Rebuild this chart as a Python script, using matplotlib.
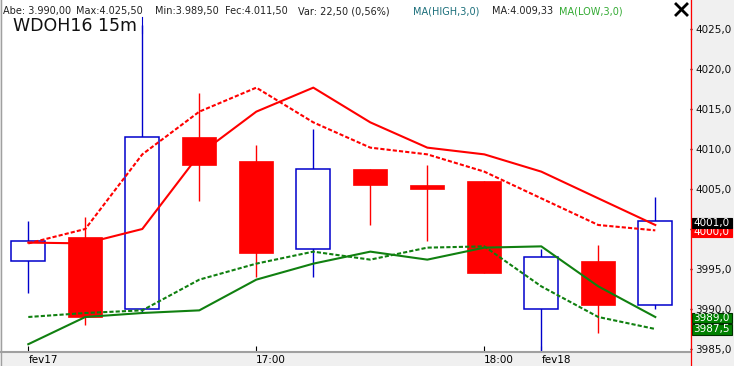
import matplotlib
matplotlib.use("Agg")
import matplotlib.pyplot as plt
from matplotlib.patches import Rectangle
from matplotlib.lines import Line2D
import matplotlib.transforms as mtransforms

W, H = 734, 366

# ---- data ----
opens  = [3996.0, 3999.0, 3990.0, 4011.5, 4008.5, 3997.5, 4007.5, 4005.5, 4006.0, 3990.0, 3996.0, 3990.5]
highs  = [4001.0, 4001.5, 4025.5, 4017.0, 4010.5, 4012.5, 4007.5, 4008.0, 4006.0, 3997.5, 3998.0, 4004.0]
lows   = [3992.0, 3988.0, 3989.5, 4003.5, 3994.0, 3994.0, 4000.5, 3998.5, 3994.5, 3984.0, 3987.0, 3990.0]
closes = [3998.5, 3989.0, 4011.5, 4008.0, 3997.0, 4007.5, 4005.5, 4005.0, 3994.5, 3996.5, 3990.5, 4001.0]

ma_high_dotted = [3998.20, 4000.00, 4009.33, 4014.67, 4017.67, 4013.33, 4010.17, 4009.33, 4007.17, 4003.83, 4000.50, 3999.83]
ma_high_solid  = [3998.30, 3998.20, 4000.00, 4009.33, 4014.67, 4017.67, 4013.33, 4010.17, 4009.33, 4007.17, 4003.83, 4000.50]
ma_low_dotted  = [3989.00, 3989.50, 3989.83, 3993.67, 3995.67, 3997.17, 3996.17, 3997.67, 3997.83, 3992.83, 3989.00, 3987.50]
ma_low_solid   = [3985.60, 3989.00, 3989.50, 3989.83, 3993.67, 3995.67, 3997.17, 3996.17, 3997.67, 3997.83, 3992.83, 3989.00]

xtick_pos = [0, 4, 8, 9]
xtick_labels = ["fev17", "17:00", "18:00", "fev18"]
ytick_vals = [3985, 3990, 3995, 4000, 4005, 4010, 4015, 4020, 4025]
ytick_labels = ["3985,0", "3990,0", "3995,0", "4000,0", "4005,0", "4010,0", "4015,0", "4020,0", "4025,0"]

tag_vals = [4000.0, 4001.0, 3989.0, 3987.5]
tag_texts = ["4000,0", "4001,0", "3989,0", "3987,5"]
tag_colors = ["#ff0000", "#000000", "#008000", "#008000"]

header_parts = ["Abe: 3.990,00", "Max:4.025,50", "Min:3.989,50", "Fec:4.011,50",
                "Var: 22,50 (0,56%)", "MA(HIGH,3,0)", "MA:4.009,33", "MA(LOW,3,0)"]
header_x = [3, 76, 155, 225, 298, 413, 492, 559]
header_colors = ["#222222"] * 5 + ["#1a6e7a", "#222222", "#33aa33"]

title = "WDOH16 15m"

BLUE = "#0000cc"
RED = "#ff0000"
GREEN = "#108010"

plt.rcParams["font.family"] = ["DejaVu Sans"]

fig = plt.figure(figsize=(W / 100, H / 100), dpi=100, facecolor="#f0f0f0")
ax = fig.add_axes([1 / W, 14 / H, 689 / W, 352 / H])
ax.set_facecolor("white")

xs = list(range(len(opens)))
body_w = 0.6
for i in xs:
    o, h, l, c = opens[i], highs[i], lows[i], closes[i]
    bull = c >= o
    col = BLUE if bull else RED
    ax.vlines(i, l, h, color=col, lw=1.0, zorder=2)
    bottom = min(o, c)
    height = max(abs(c - o), 0.05)
    if bull:
        ax.bar(i, height, bottom=bottom, width=body_w, facecolor="white",
               edgecolor=col, linewidth=1.1, zorder=3)
    else:
        ax.bar(i, height, bottom=bottom, width=body_w, facecolor=col,
               edgecolor=col, linewidth=0.5, zorder=3)

ax.plot(xs, ma_high_dotted, color=RED, lw=1.5, ls=(0, (2, 1)), zorder=4)
ax.plot(xs, ma_high_solid, color=RED, lw=1.5, zorder=4)
ax.plot(xs, ma_low_dotted, color=GREEN, lw=1.5, ls=(0, (2, 1)), zorder=4)
ax.plot(xs, ma_low_solid, color=GREEN, lw=1.5, zorder=4)

xmin = -27.3 / 57
ax.set_xlim(xmin, xmin + 689 / 57)
ax.set_ylim(4025 - (352 - 29) / 8, 4025 + 29 / 8)

ax.set_xticks(xtick_pos)
ax.set_xticklabels(xtick_labels)
for lab in ax.get_xticklabels():
    lab.set_ha("left")
ax.tick_params(axis="x", direction="in", length=4.3, width=0.8, pad=2, labelsize=7.5, colors="black")

ax.yaxis.tick_right()
ax.set_yticks(ytick_vals)
ax.set_yticklabels(ytick_labels)
ax.tick_params(axis="y", direction="out", length=1.5, width=1, pad=2.5, labelsize=7.5, colors="#111111")

for s in ["top", "right"]:
    ax.spines[s].set_visible(False)
ax.spines["left"].set_color("#a0a0a0")
ax.spines["bottom"].set_color("#a0a0a0")
ax.spines["bottom"].set_linewidth(1.5)

# price tags on the right scale
blend = mtransforms.blended_transform_factory(fig.transFigure, ax.transData)
box_h = 10.6 / 8
tag_offsets = [-0.35, -0.25, -0.12, -0.06]
for v, t, c, off in zip(tag_vals, tag_texts, tag_colors, tag_offsets):
    yc = v + off
    ec = "#003000" if c == "#008000" else c
    r = Rectangle((691.7 / W, yc - box_h / 2), 40 / W, box_h, transform=blend,
                  facecolor=c, edgecolor=ec, lw=0.8, clip_on=False, zorder=6)
    ax.add_patch(r)
    ax.text(711.7 / W, yc, t, transform=blend, color="white", fontsize=7.5,
            ha="center", va="center", clip_on=False, zorder=6)

# frame decorations
fig.add_artist(Line2D([690.5 / W] * 2, [0, 1], color="red", lw=0.9, transform=fig.transFigure))
fig.add_artist(Line2D([0.5 / W] * 2, [0, 1], color="#a0a0a0", lw=1.0, transform=fig.transFigure))

# close X
fig.add_artist(Line2D([676 / W, 687 / W], [1 - 4 / H, 1 - 15 / H], color="black", lw=2.0, transform=fig.transFigure))
fig.add_artist(Line2D([676 / W, 687 / W], [1 - 15 / H, 1 - 4 / H], color="black", lw=2.0, transform=fig.transFigure))

# header
for txt, x, c in zip(header_parts, header_x, header_colors):
    fig.text(x / W, 1 - 14 / H, txt, fontsize=7, color=c, ha="left", va="baseline")

fig.text(13 / W, 1 - 31 / H, title, fontsize=12.5, color="#111111", ha="left", va="baseline")
fig.add_artist(Line2D([142 / W] * 2, [1 - 17 / H, 1 - 33 / H], color=BLUE, lw=0.8, transform=fig.transFigure))

fig.savefig("out.png", dpi=100, facecolor=fig.get_facecolor())
